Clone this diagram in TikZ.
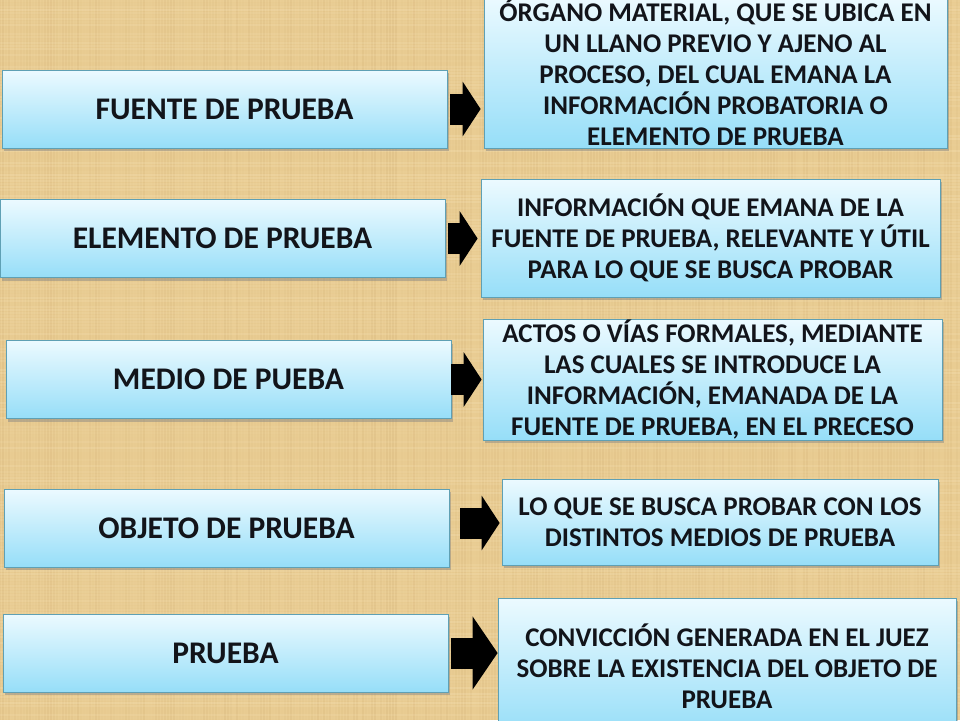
\documentclass[tikz,border=0pt]{standalone}
\usepackage{fontspec}
\setmainfont{Carlito}
\usetikzlibrary{arrows.meta,positioning,shadows}
\definecolor{burlap}{RGB}{233,204,146}
\definecolor{burlapdark}{RGB}{186,148,88}
\definecolor{burlaplight}{RGB}{252,236,198}
\definecolor{boxtop}{RGB}{236,250,255}
\definecolor{boxbottom}{RGB}{150,222,248}
\definecolor{boxline}{RGB}{95,160,180}
\definecolor{textdark}{RGB}{18,20,26}
\tikzset{
  termbox/.style={            % left column: the terms
    draw=boxline, line width=0.8pt,
    top color=boxtop, bottom color=boxbottom,
    drop shadow={shadow xshift=2pt,shadow yshift=-3pt,opacity=.45},
    minimum width=445pt, minimum height=78pt,
    text=textdark, font=\bfseries\fontsize{31.5}{36}\selectfont
  },
  defbox/.style={             % right column: the definitions
    draw=boxline, line width=0.8pt,
    top color=boxtop, bottom color=boxbottom,
    drop shadow={shadow xshift=2pt,shadow yshift=-3pt,opacity=.45},
    align=center, inner sep=0pt,
    text=textdark, font=\bfseries\fontsize{27}{31}\selectfont
  },
  blockarrow/.style={
    black, line width=31pt,
    -{Triangle[length=18pt,width=54pt]}
  }
}
\begin{document}
\begin{tikzpicture}[x=1pt,y=-1pt]
  \useasboundingbox (0,0) rectangle (960,720);
  \fill[burlap] (0,0) rectangle (960,720);
  % burlap weave
  \pgfmathsetseed{11}
  \foreach \i in {0,3,...,960} {
    \pgfmathsetmacro\op{rnd*0.14}
    \draw[burlapdark,opacity=\op,line width=1.3pt] (\i,0) -- (\i,720);
  }
  \foreach \j in {1,4,...,720} {
    \pgfmathsetmacro\op{rnd*0.22}
    \draw[burlaplight,opacity=\op,line width=1.3pt] (0,\j) -- (960,\j);
  }

  % terms
  \node[termbox] (fuente)   at (224.5,109)   {FUENTE DE PRUEBA};
  \node[termbox] (elemento) at (222.5,238.5) {ELEMENTO DE PRUEBA};
  \node[termbox] (medio)    at (228.5,379.5) {MEDIO DE PUEBA};
  \node[termbox] (objeto)   at (226.5,528)   {OBJETO DE PRUEBA};
  \node[termbox] (prueba)   at (225.5,653)   {PRUEBA};

  % definitions
  \node[defbox,minimum width=463pt,minimum height=152pt] (fuentedef) at (715.5,72)
    {ÓRGANO MATERIAL, QUE SE UBICA EN\\UN LLANO PREVIO Y AJENO AL\\PROCESO, DEL CUAL EMANA LA\\INFORMACIÓN PROBATORIA O\\ELEMENTO DE PRUEBA};
  \node[defbox,minimum width=459pt,minimum height=118pt] (elementodef) at (710.5,238)
    {INFORMACIÓN QUE EMANA DE LA\\FUENTE DE PRUEBA, RELEVANTE Y ÚTIL\\PARA LO QUE SE BUSCA PROBAR};
  \node[defbox,minimum width=459pt,minimum height=121pt] (mediodef) at (712.5,379.5)
    {ACTOS O VÍAS FORMALES, MEDIANTE\\LAS CUALES SE INTRODUCE LA\\INFORMACIÓN, EMANADA DE LA\\FUENTE DE PRUEBA, EN EL PRECESO};
  \node[defbox,minimum width=436pt,minimum height=86pt] (objetodef) at (720,522)
    {LO QUE SE BUSCA PROBAR CON LOS\\DISTINTOS MEDIOS DE PRUEBA};
  \node[defbox,minimum width=458pt,minimum height=137pt] (pruebadef) at (727,666.5)
    {CONVICCIÓN GENERADA EN EL JUEZ\\SOBRE LA EXISTENCIA DEL OBJETO DE\\PRUEBA};

  % arrows
  \draw[blockarrow,shorten <=3pt,shorten >=3pt] (fuente.east) -- (fuente.east -| fuentedef.west);
  \draw[blockarrow,shorten <=3pt,shorten >=3pt] (elemento.east) -- (elemento.east -| elementodef.west);
  \draw[blockarrow,shorten <=0pt,shorten >=1pt] (medio.east) -- (medio.east -| mediodef.west);
  \draw[blockarrow,shorten <=11pt,shorten >=2pt] ([yshift=5pt]objeto.east) -- ([yshift=5pt]objeto.east -| objetodef.west);
  \draw[blockarrow,-{Triangle[length=25pt,width=72pt]},shorten <=3pt,shorten >=0pt] (prueba.east) -- (prueba.east -| pruebadef.west);
\end{tikzpicture}
\end{document}
